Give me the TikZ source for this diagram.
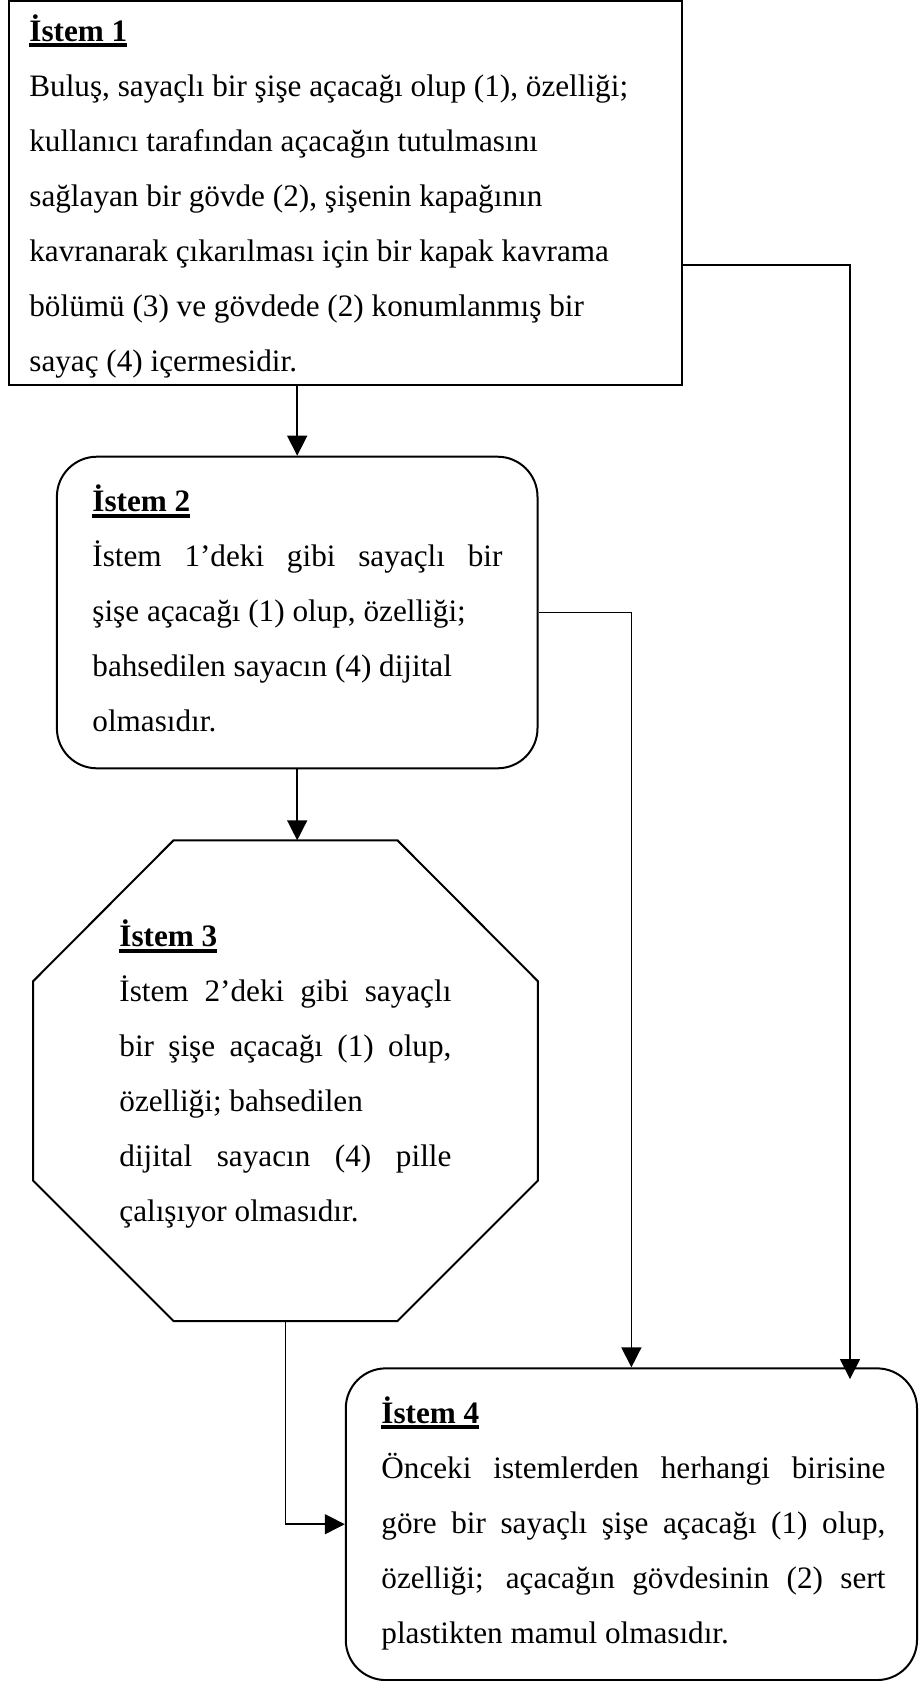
\documentclass[tikz,border=0pt]{standalone}
\usepackage{fontspec}
\setmainfont{Liberation Serif}
\usetikzlibrary{arrows.meta,calc}
\newcommand\hd[1]{\leavevmode\setbox0=\hbox{\bfseries #1}\rlap{\vrule height -1.2pt depth 3.2pt width \wd0}\box0}
\newcommand\jl[1]{\leavevmode\makebox[\linewidth][s]{#1}\\}
\tikzset{
  box/.style={draw, line width=1pt, inner sep=0pt},
  arr/.style={line width=0.75pt, -{Triangle[length=10pt,width=10pt]}},
  txt/.style={anchor=base west, inner sep=0pt, font=\fontsize{15.6pt}{27.5pt}\selectfont},
}
\begin{document}
\begin{tikzpicture}[x=0.5pt,y=-0.5pt]
\useasboundingbox (0,0) rectangle (919,1681);
% boxes
\node[box, minimum width=336.5pt, minimum height=192pt] (box1) at (345.25,193) {};
\node[box, rounded corners=20pt, minimum width=240.3pt, minimum height=155.8pt] (box2) at (297.2,612.5) {};
\node[box, rounded corners=20pt, minimum width=285.6pt, minimum height=155.85pt] (box4) at (631.4,1524.2) {};
\node[inner sep=0pt, minimum width=252.05pt, minimum height=240pt] (oct) at (285.5,1080.7) {};
\draw[line width=1pt] ($(oct.north west)+(140.5,0)$) -- ($(oct.north east)+(-140.5,0)$)
  -- ($(oct.north east)+(0,141)$) -- ($(oct.south east)+(0,-140.5)$)
  -- ($(oct.south east)+(-140.5,0)$) -- ($(oct.south west)+(140.5,0)$)
  -- ($(oct.south west)+(0,-140.5)$) -- ($(oct.north west)+(0,141)$) -- cycle;
% texts
\node[txt] (t1) at (29,41) {\parbox[t]{320pt}{\raggedright
\hd{İstem 1}\\
Buluş, sayaçlı bir şişe açacağı olup (1), özelliği;\\
kullanıcı tarafından açacağın tutulmasını\\
sağlayan bir gövde (2), şişenin kapağının\\
kavranarak çıkarılması için bir kapak kavrama\\
bölümü (3) ve gövdede (2) konumlanmış bir\\
sayaç (4) içermesidir.}};
\node[txt] (t2) at (92,511.7) {\parbox[t]{205pt}{
\hd{İstem 2}\\
\jl{İstem 1’deki gibi sayaçlı bir}
şişe açacağı (1) olup, özelliği;\\
bahsedilen sayacın (4) dijital\\
olmasıdır.}};
\node[txt] (t3) at (119,946.7) {\parbox[t]{166pt}{
\hd{İstem 3}\\
\jl{İstem 2’deki gibi sayaçlı}
\jl{bir şişe açacağı (1) olup,}
özelliği; bahsedilen\\
\jl{dijital sayacın (4) pille}
çalışıyor olmasıdır.}};
\node[txt] (t4) at (381,1423) {\parbox[t]{252pt}{
\hd{İstem 4}\\
\jl{Önceki istemlerden herhangi birisine}
\jl{göre bir sayaçlı şişe açacağı (1) olup,}
\jl{özelliği; açacağın gövdesinin (2) sert}
plastikten mamul olmasıdır.}};
% connectors
\draw[arr] (box1.south -| box2.north) -- (box2.north);
\draw[arr] (box2.south) -- (box2.south |- oct.north);
\draw[arr] (box2.east) -| (box4.north);
\draw[arr] ([yshift=-36pt]box1.east) -| ([xshift=-34pt,yshift=-5.85pt]box4.north east);
\draw[arr] (oct.south) |- (box4.west);
\end{tikzpicture}
\end{document}
